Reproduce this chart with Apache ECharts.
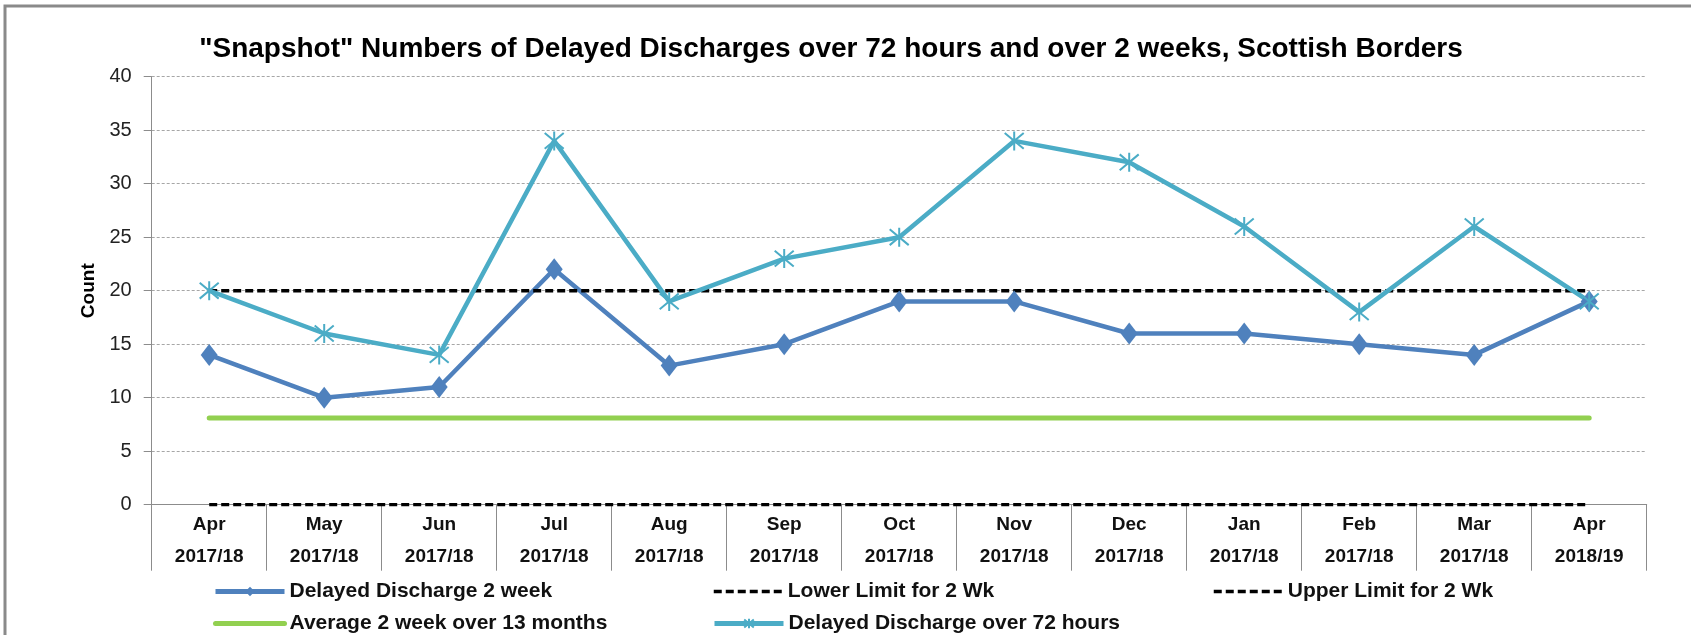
<!DOCTYPE html>
<html>
<head>
<meta charset="utf-8">
<script src="https://cdn.jsdelivr.net/npm/echarts@6/dist/echarts.min.js"></script>
<style>
  html, body { margin: 0; padding: 0; background: #ffffff; }
  #chart { width: 1691px; height: 635px; }
</style>
</head>
<body>
<div id="chart"></div>
<script>
// ---- Data ----
const months = ['Apr', 'May', 'Jun', 'Jul', 'Aug', 'Sep', 'Oct', 'Nov', 'Dec', 'Jan', 'Feb', 'Mar', 'Apr'];
const years = ['2017/18', '2017/18', '2017/18', '2017/18', '2017/18', '2017/18', '2017/18', '2017/18', '2017/18', '2017/18', '2017/18', '2017/18', '2018/19'];
const delayed2Week = [14, 10, 11, 22, 13, 15, 19, 19, 16, 16, 15, 14, 19];
const lowerLimit2Wk = [0, 0, 0, 0, 0, 0, 0, 0, 0, 0, 0, 0, 0];
const upperLimit2Wk = [20, 20, 20, 20, 20, 20, 20, 20, 20, 20, 20, 20, 20];
const average2Week = [8.1, 8.1, 8.1, 8.1, 8.1, 8.1, 8.1, 8.1, 8.1, 8.1, 8.1, 8.1, 8.1];
const delayedOver72h = [20, 16, 14, 34, 19, 23, 25, 34, 32, 26, 18, 26, 19];
const yTicks = { min: 0, max: 40, interval: 5 };

const titleText = '"Snapshot" Numbers of Delayed Discharges over 72 hours and over 2 weeks, Scottish Borders';
const seriesNames = [
  'Delayed Discharge 2 week',
  'Lower Limit for 2 Wk',
  'Upper Limit for 2 Wk',
  'Average 2 week over 13 months',
  'Delayed Discharge over 72 hours'
];

// ---- Build ----
const categories = months.map((m, i) => m + '\n' + years[i]);
const FONT = '"Liberation Sans", Arial, sans-serif';
const GRAY = '#8c8c8c';
const DASH = [8, 4];

const legendText = { fontFamily: FONT, fontWeight: 'bold', fontSize: 21, color: '#111', lineHeight: 20 };
function legendAt(name, left, top, lineWidth, hideSymbol) {
  const lg = {
    data: [name], left: left, top: top, padding: 0, orient: 'horizontal',
    itemWidth: 69, itemHeight: 12, textStyle: legendText, selectedMode: false,
    lineStyle: { width: lineWidth }
  };
  if (hideSymbol) lg.itemStyle = { opacity: 0 };
  return lg;
}

const chart = echarts.init(document.getElementById('chart'), null, { renderer: 'canvas' });
chart.setOption({
  backgroundColor: '#ffffff',
  animation: false,
  graphic: [
    { type: 'rect', shape: { x: 5, y: 6, width: 1720, height: 700 },
      style: { fill: 'none', stroke: '#8a8a8a', lineWidth: 3 }, silent: true },
    { type: 'text', x: 831, y: 49,
      style: { text: titleText, fontFamily: FONT, fontWeight: 'bold', fontSize: 28,
               fill: '#000', align: 'center', verticalAlign: 'middle' } }
  ],
  legend: [
    legendAt(seriesNames[0], 213, 581, 5, false),
    legendAt(seriesNames[1], 712, 581, 3.5, true),
    legendAt(seriesNames[2], 1212, 581, 3.5, true),
    legendAt(seriesNames[3], 213, 613, 5, true),
    legendAt(seriesNames[4], 712, 613, 5, false)
  ],
  grid: { left: 151.7, right: 44.3, top: 76.7, bottom: 130.3, containLabel: false },
  xAxis: {
    type: 'category',
    data: categories,
    boundaryGap: true,
    axisLine: { show: true, lineStyle: { color: GRAY, width: 1 } },
    axisTick: { show: true, interval: 0, length: 66, lineStyle: { color: GRAY, width: 1 } },
    axisLabel: { interval: 0, margin: 4, fontFamily: FONT, fontWeight: 'bold', fontSize: 19,
                 color: '#111', lineHeight: 32 },
    splitLine: { show: false }
  },
  yAxis: {
    type: 'value',
    min: yTicks.min, max: yTicks.max, interval: yTicks.interval,
    name: 'Count', nameLocation: 'middle', nameGap: 50, nameRotate: 90,
    nameTextStyle: { fontFamily: FONT, fontWeight: 'bold', fontSize: 19, color: '#000' },
    axisLine: { show: true, lineStyle: { color: GRAY, width: 1 } },
    axisTick: { show: true, inside: false, length: 8, lineStyle: { color: GRAY, width: 1 } },
    axisLabel: { margin: 20, fontFamily: FONT, fontSize: 20, color: '#222' },
    splitLine: { show: true, lineStyle: { color: '#a6a6a6', width: 1, type: [3, 2] } }
  },
  series: [
    {
      name: seriesNames[0], type: 'line', data: delayed2Week,
      symbol: 'diamond', symbolSize: [17, 22], showAllSymbol: true,
      lineStyle: { color: '#4F81BD', width: 4.5 },
      itemStyle: { color: '#4F81BD', borderWidth: 0 }
    },
    {
      name: seriesNames[1], type: 'line', data: lowerLimit2Wk, symbol: 'none',
      lineStyle: { color: '#000', width: 3.5, type: DASH },
      itemStyle: { color: '#000' }
    },
    {
      name: seriesNames[2], type: 'line', data: upperLimit2Wk, symbol: 'none',
      lineStyle: { color: '#000', width: 3.5, type: DASH },
      itemStyle: { color: '#000' }
    },
    {
      name: seriesNames[3], type: 'line', data: average2Week, symbol: 'none',
      lineStyle: { color: '#92D050', width: 5, cap: 'round' },
      itemStyle: { color: '#92D050' }
    },
    {
      name: seriesNames[4], type: 'line', data: delayedOver72h,
      symbol: 'path://M0,0L10,10M10,0L0,10M5,-1L5,11', symbolSize: 19, showAllSymbol: true,
      lineStyle: { color: '#4BACC6', width: 4.5 },
      itemStyle: { color: '#4BACC6', borderColor: '#4BACC6', borderWidth: 2 }
    }
  ]
});
</script>
</body>
</html>
